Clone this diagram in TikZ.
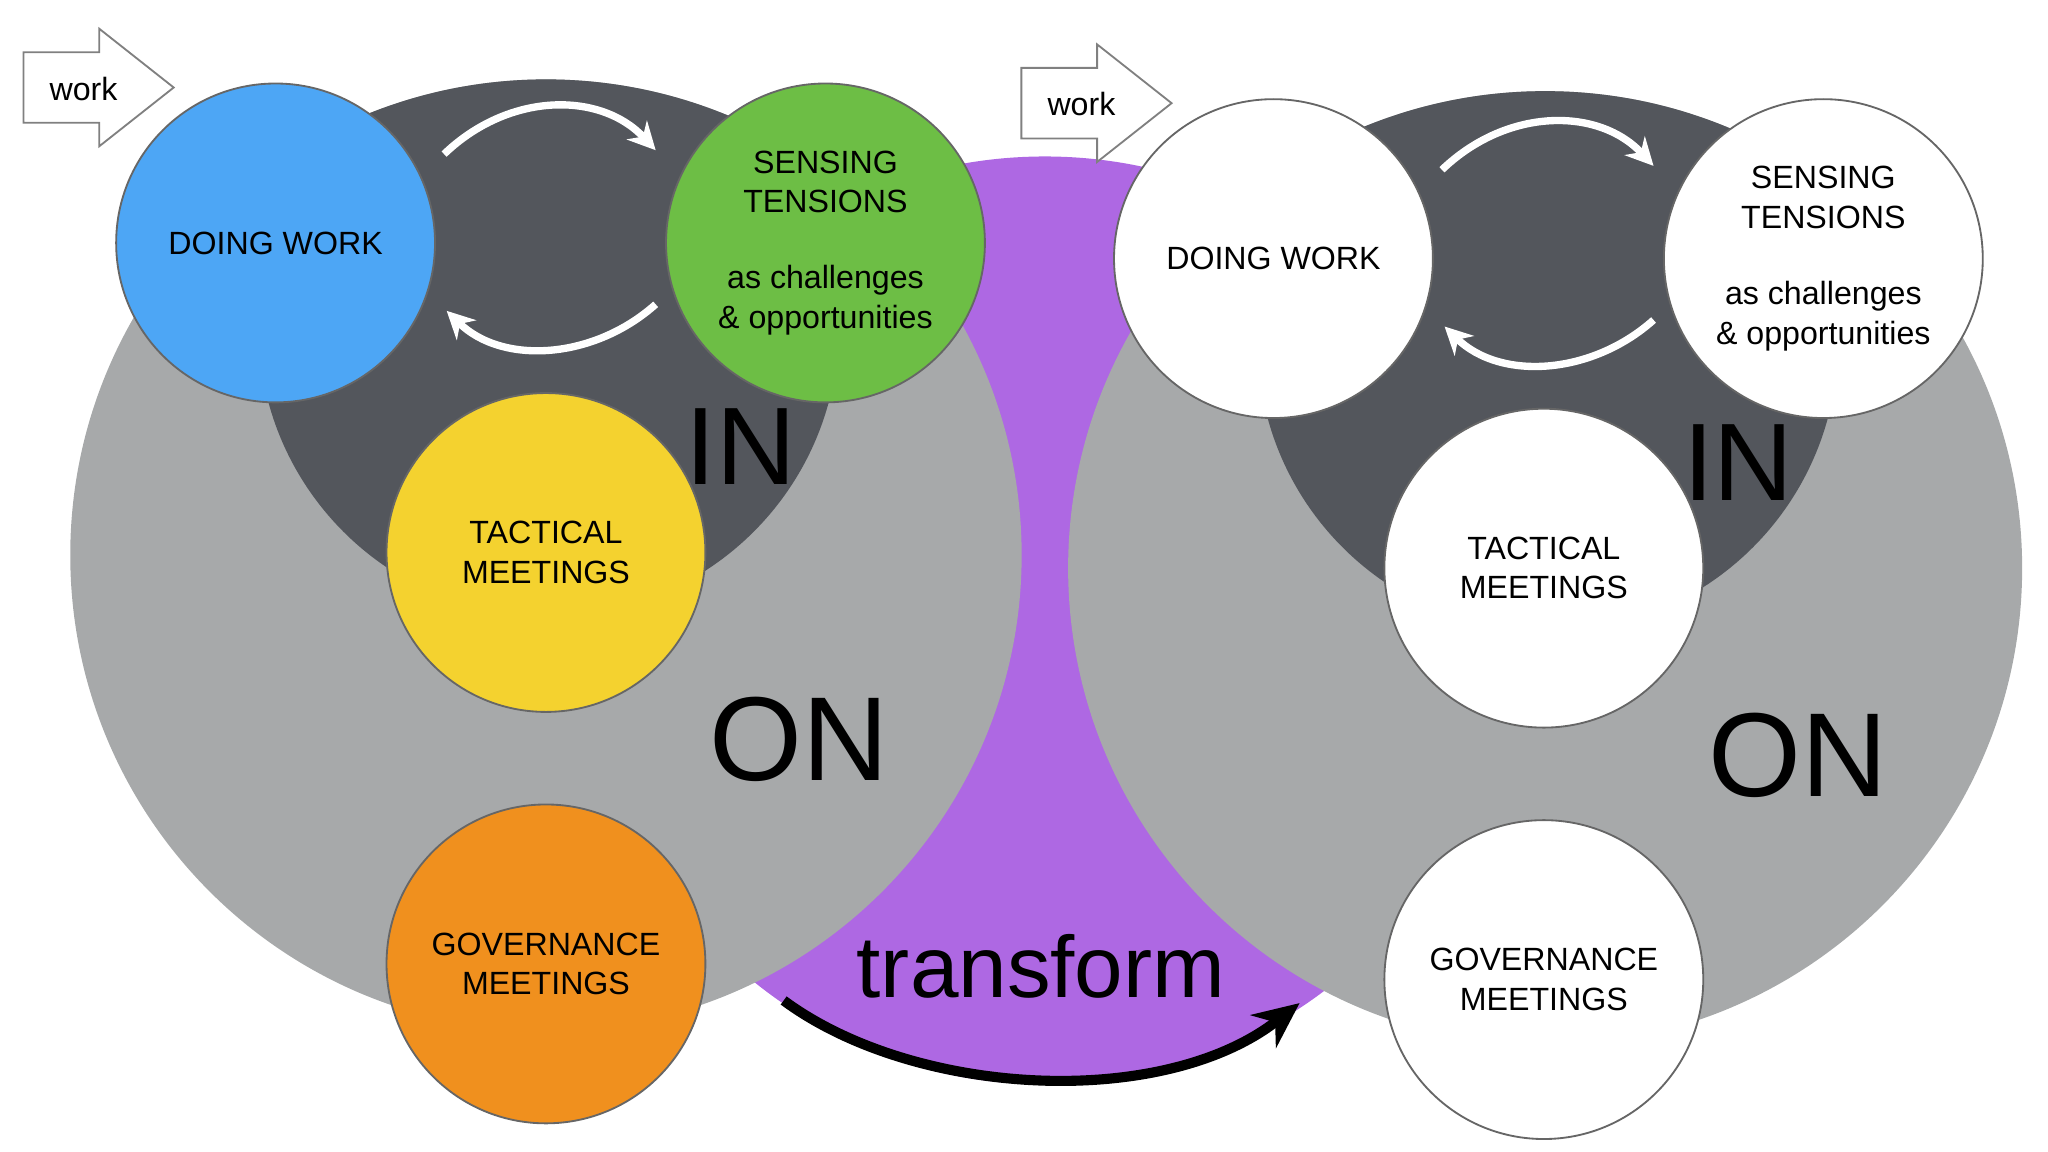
\documentclass[tikz,border=0pt]{standalone}
\usepackage{fontspec}
\setmainfont{Liberation Sans}
\usetikzlibrary{arrows.meta}
\definecolor{gr}{HTML}{A7A9AA}
\definecolor{dk}{HTML}{53565C}
\definecolor{pu}{HTML}{AE68E3}
\definecolor{bl}{HTML}{4DA6F5}
\definecolor{gn}{HTML}{6DBE45}
\definecolor{ye}{HTML}{F4D22F}
\definecolor{orr}{HTML}{F0901E}
\tikzset{
 bub/.style={circle,draw=gray!80!black,line width=0.4pt,minimum size=2.44cm,inner sep=0pt,align=center,font=\fontsize{7}{8.6}\selectfont},
 big/.style={font=\fontsize{24}{24}\selectfont},
 wk/.style={draw=gray,fill=white,line width=0.4pt},
 wa/.style={white,line width=1.6pt,-{Stealth[length=6pt,width=6pt]}},
}
\begin{document}
\begin{tikzpicture}[x=0.01cm,y=-0.01cm]
\useasboundingbox (0,0) rectangle (1568,882);
\fill[pu] (800,475) circle (3.55cm);
% left
\fill[gr] (418,425) circle (3.64cm);
\begin{scope}\clip (418,425) circle (3.64cm);\fill[dk] (420,250) circle (2.22cm);\end{scope}
% right
\fill[gr] (1183,435) circle (3.65cm);
\begin{scope}\clip (1183,435) circle (3.65cm);\fill[dk] (1185,262) circle (2.22cm);\end{scope}
\node[big] (in1) at (567,342) {IN};
\node[big,font=\fontsize{26}{26}\selectfont] (on1) at (612,566) {ON};
\node[big] (in2) at (1331,354) {IN};
\node[big,font=\fontsize{26}{26}\selectfont] (on2) at (1377,578) {ON};
\node[font=\fontsize{19}{19}\selectfont] (tr) at (797,740) {transform};
% work arrows
\draw[wk] (18,40) -- (76,40) -- (76,22) -- (133,67) -- (76,112) -- (76,94) -- (18,94) -- cycle;
\node[font=\fontsize{7}{8}\selectfont] (w1) at (64,68) {work};
\draw[wk] (782,52) -- (840,52) -- (840,34) -- (897,79) -- (840,124) -- (840,106) -- (782,106) -- cycle;
\node[font=\fontsize{7}{8}\selectfont] (w2) at (828,80) {work};
% nodes
\node[bub,fill=bl] (d1) at (211,186) {DOING WORK};
\node[bub,fill=gn] (s1) at (632,186) {SENSING\\TENSIONS\\[8pt]as challenges\\\& opportunities};
\node[bub,fill=ye] (t1) at (418,423) {TACTICAL\\MEETINGS};
\node[bub,fill=orr] (g1) at (418,738) {GOVERNANCE\\MEETINGS};
\node[bub,fill=white] (d2) at (975,198) {DOING WORK};
\node[bub,fill=white] (s2) at (1396,198) {SENSING\\TENSIONS\\[8pt]as challenges\\\& opportunities};
\node[bub,fill=white] (t2) at (1182,435) {TACTICAL\\MEETINGS};
\node[bub,fill=white] (g2) at (1182,750) {GOVERNANCE\\MEETINGS};
% loop arrows
\coordinate (a1) at (340,118); \coordinate (b1) at (502,115);
\coordinate (c1) at (502,233); \coordinate (e1) at (342,238);
\draw[wa] (a1) .. controls (390,70) and (460,70) .. (b1);
\draw[wa] (c1) .. controls (455,275) and (385,280) .. (e1);
\coordinate (a2) at (1104,130); \coordinate (b2) at (1266,127);
\coordinate (c2) at (1266,245); \coordinate (e2) at (1106,250);
\draw[wa] (a2) .. controls (1154,82) and (1224,82) .. (b2);
\draw[wa] (c2) .. controls (1219,287) and (1149,292) .. (e2);
% transform arrow
\coordinate (ta) at (600,766); \coordinate (tb) at (995,768);
\draw[black,line width=2.2pt,-{Stealth[length=10pt,width=9pt]}] (ta) .. controls (700,840) and (890,850) .. (tb);
\end{tikzpicture}
\end{document}
